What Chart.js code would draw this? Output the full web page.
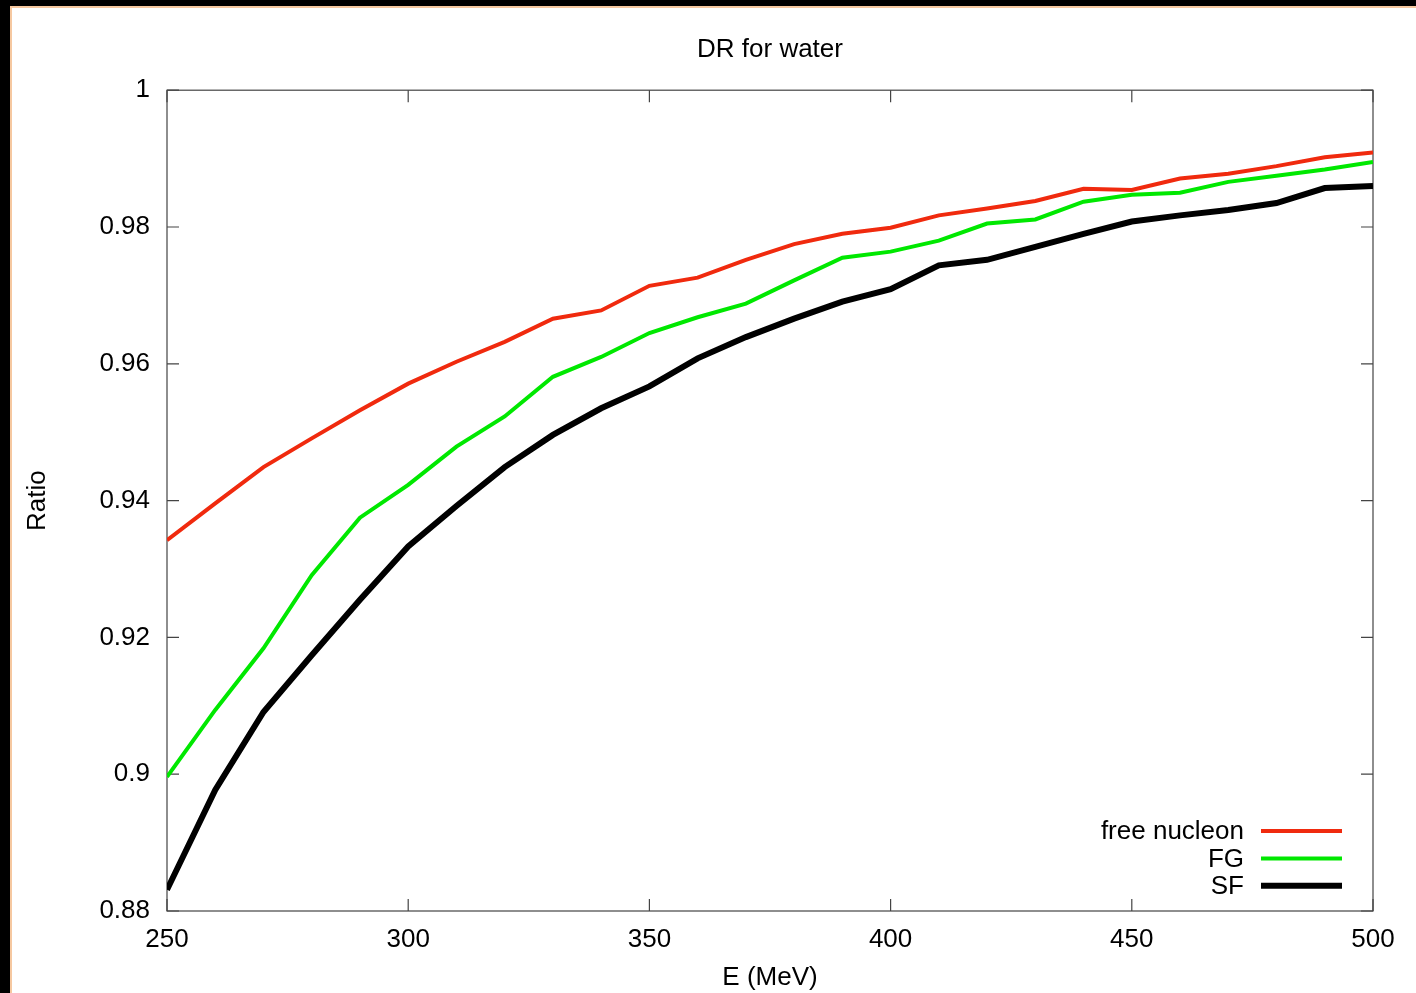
<!DOCTYPE html>
<html>
<head>
<meta charset="utf-8">
<script src="https://cdn.jsdelivr.net/npm/chart.js@4.4.1/dist/chart.umd.min.js"></script>
<style>
  html, body { margin: 0; padding: 0; background: #fff; }
  #wrap { position: relative; width: 1416px; height: 993px; overflow: hidden; }
  #mycanvas { position: absolute; left: 0; top: 0; }
  #edge { position: absolute; left: 0; top: 0; width: 1416px; height: 993px; box-sizing: border-box;
          border-top: 6px solid #000; border-left: 10px solid #000; pointer-events: none; }
  #edge2 { position: absolute; left: 0; top: 0; right: 0; bottom: 0;
           border-top: 2px solid #f6c8a0; border-left: 2px solid #f6c8a0; }
</style>
</head>
<body>
<div id="wrap">
  <canvas id="mycanvas" width="1416" height="993"></canvas>
  <div id="edge"><div id="edge2"></div></div>
</div>
<script>
// energies in MeV
var energy = [250, 260, 270, 280, 290, 300, 310, 320, 330, 340, 350, 360, 370,
              380, 390, 400, 410, 420, 430, 440, 450, 460, 470, 480, 490, 500];

var free_nucleon = [0.9342, 0.9396, 0.9449, 0.9491, 0.9532, 0.9571, 0.9603, 0.9632, 0.9666,
                    0.9678, 0.9714, 0.9726, 0.9752, 0.9775, 0.9790, 0.9799, 0.9817, 0.9827,
                    0.9838, 0.9856, 0.9854, 0.9871, 0.9878, 0.9889, 0.9902, 0.9909];

var fg_data = [0.8996, 0.9094, 0.9184, 0.9291, 0.9375, 0.9423, 0.9479, 0.9523, 0.9581,
               0.9610, 0.9645, 0.9668, 0.9688, 0.9722, 0.9755, 0.9764, 0.9780, 0.9805,
               0.9811, 0.9837, 0.9847, 0.9850, 0.9866, 0.9875, 0.9884, 0.9895];

var sf_data = [0.8831, 0.8977, 0.9091, 0.9174, 0.9255, 0.9333, 0.9392, 0.9449, 0.9496,
               0.9535, 0.9567, 0.9608, 0.9639, 0.9666, 0.9691, 0.9709, 0.9744, 0.9752,
               0.9771, 0.9790, 0.9808, 0.9817, 0.9825, 0.9835, 0.9857, 0.9860];

var xTicks = [250, 300, 350, 400, 450, 500];
var xTickLabels = ["250", "300", "350", "400", "450", "500"];
var yTicks = [0.88, 0.90, 0.92, 0.94, 0.96, 0.98, 1.00];
var yTickLabels = ["0.88", "0.9", "0.92", "0.94", "0.96", "0.98", "1"];

var FONT = "'Liberation Sans', Arial, sans-serif";

function points(vals) {
  var out = [];
  for (var i in energy) {
    out.push({x: energy[i], y: vals[i]});
  }
  return out;
}

// gnuplot style frame with inward ticks on all four sides
var framePlugin = {
  id: 'frame',
  beforeDatasetsDraw: function(chart) {
    var ctx = chart.ctx, a = chart.chartArea;
    var xs = chart.scales.x, ys = chart.scales.y;
    var len = 12;
    ctx.save();
    ctx.strokeStyle = '#444';
    ctx.lineWidth = 1.2;
    ctx.strokeRect(a.left, a.top, a.right - a.left, a.bottom - a.top);
    ctx.beginPath();
    xTicks.forEach(function(v) {
      var px = xs.getPixelForValue(v);
      ctx.moveTo(px, a.bottom); ctx.lineTo(px, a.bottom - len);
      ctx.moveTo(px, a.top); ctx.lineTo(px, a.top + len);
    });
    yTicks.forEach(function(v) {
      var py = ys.getPixelForValue(v);
      ctx.moveTo(a.left, py); ctx.lineTo(a.left + len, py);
      ctx.moveTo(a.right, py); ctx.lineTo(a.right - len, py);
    });
    ctx.stroke();
    ctx.restore();
  }
};

// key in the lower right corner, text first then the line sample
var keyPlugin = {
  id: 'key',
  afterDatasetsDraw: function(chart) {
    var ctx = chart.ctx, a = chart.chartArea;
    ctx.save();
    ctx.font = '26px ' + FONT;
    ctx.textAlign = 'right';
    ctx.textBaseline = 'middle';
    chart.data.datasets.forEach(function(ds, i) {
      var y = a.bottom - 80 + i * 27.4;
      ctx.fillStyle = '#000';
      ctx.fillText(ds.label, a.right - 129, y + 1);
      ctx.strokeStyle = ds.borderColor;
      ctx.lineWidth = ds.borderWidth;
      ctx.beginPath();
      ctx.moveTo(a.right - 112, y);
      ctx.lineTo(a.right - 31, y);
      ctx.stroke();
    });
    ctx.restore();
  }
};

var ctx = document.getElementById('mycanvas');

var chart = new Chart(ctx, {
  type: 'line',
  data: {
    datasets: [
      {
        label: 'free nucleon',
        data: points(free_nucleon),
        borderColor: 'rgb(240, 42, 14)',
        borderWidth: 4,
        pointRadius: 0,
        fill: false,
        tension: 0
      },
      {
        label: 'FG',
        data: points(fg_data),
        borderColor: 'rgb(0, 232, 0)',
        borderWidth: 4,
        pointRadius: 0,
        fill: false,
        tension: 0
      },
      {
        label: 'SF',
        data: points(sf_data),
        borderColor: '#000',
        borderWidth: 6,
        pointRadius: 0,
        fill: false,
        tension: 0
      }
    ]
  },
  options: {
    responsive: false,
    animation: false,
    layout: { padding: { left: 0, right: 43, top: 0, bottom: 0 } },
    plugins: {
      legend: { display: false },
      tooltip: { enabled: false },
      title: {
        display: true,
        text: 'DR for water',
        color: '#000',
        fullSize: false,
        font: { family: FONT, size: 26, weight: 'normal' },
        padding: { top: 34, bottom: 25 }
      }
    },
    scales: {
      x: {
        type: 'linear',
        min: 250,
        max: 500,
        grid: { display: false, drawTicks: false },
        border: { display: false },
        afterBuildTicks: function(scale) {
          scale.ticks = xTicks.map(function(v) { return {value: v}; });
        },
        afterFit: function(scale) { scale.height = 82; },
        ticks: {
          color: '#000',
          padding: 13,
          maxRotation: 0,
          font: { family: FONT, size: 26 },
          callback: function(v) { return xTickLabels[xTicks.indexOf(v)]; }
        },
        title: {
          display: true,
          text: 'E (MeV)',
          color: '#000',
          font: { family: FONT, size: 26 },
          padding: { top: 0, bottom: 0 }
        }
      },
      y: {
        min: 0.88,
        max: 1,
        grid: { display: false, drawTicks: false },
        border: { display: false },
        afterBuildTicks: function(scale) {
          scale.ticks = yTicks.map(function(v) { return {value: v}; });
        },
        afterFit: function(scale) { scale.width = 167; },
        ticks: {
          color: '#000',
          padding: 17,
          font: { family: FONT, size: 26 },
          callback: function(v) {
            for (var i in yTicks) {
              if (Math.abs(yTicks[i] - v) < 1e-6) return yTickLabels[i];
            }
            return '';
          }
        },
        title: {
          display: true,
          text: 'Ratio',
          color: '#000',
          font: { family: FONT, size: 26 },
          padding: { top: 22, bottom: 0 }
        }
      }
    }
  },
  plugins: [framePlugin, keyPlugin]
});
</script>
</body>
</html>
